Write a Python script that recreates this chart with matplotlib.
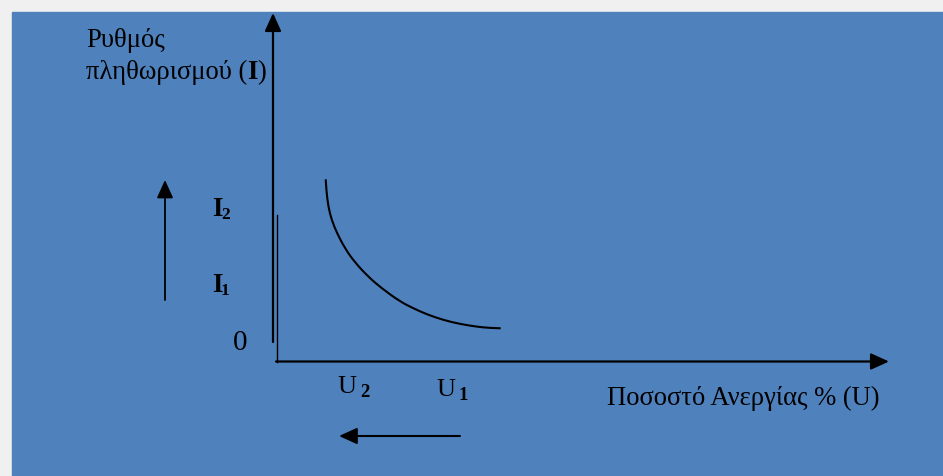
import matplotlib
matplotlib.use("Agg")
import matplotlib.pyplot as plt
from matplotlib.patches import Rectangle, PathPatch
from matplotlib.path import Path

# ---- data (conceptual units: origin at the axes corner) ----
unemployment = [5.07, 5.13, 5.33, 5.67, 6.17, 7.0, 8.0, 9.33, 10.67, 12.5,
                13.83, 15.17, 16.83, 18.5, 20.17, 21.5, 22.57]
inflation = [18.17, 17.1, 15.43, 14.1, 12.85, 11.25, 9.85, 8.42, 7.27, 5.95,
             5.27, 4.67, 4.1, 3.7, 3.43, 3.3, 3.27]

y_title_line1 = "Ρυθμός"
y_title_line2 = "πληθωρισμού ("
x_title = "Ποσοστό Ανεργίας % (U)"
origin_label = "0"
i_labels = [("I", "2"), ("I", "1")]
u_labels = [("U", "2"), ("U", "1")]

BLUE = "#4f81bd"
GRAY = "#f0f0f0"
FONT = "Liberation Serif"

W, H = 943, 476
fig = plt.figure(figsize=(W / 100, H / 100), dpi=100, facecolor=GRAY)

ax = fig.add_axes([0, 0, 1, 1])
ax.set_facecolor("none")
# data frame: 1 unit = 10 px, origin at pixel (275, 361)
OX, OY = 275, 361
ax.set_xlim((0 - OX) / 10, (W - OX) / 10)
ax.set_ylim((OY - H) / 10, (OY - 0) / 10)
ax.axis("off")
ax.add_patch(Rectangle((12 / W, 0), (W - 12) / W, (H - 12) / H,
                       transform=ax.transAxes, color=BLUE, zorder=-5,
                       clip_on=False))


def P(px, py):
    return ((px - OX) / 10, (OY - py) / 10)


def arrow(tail, tip, lw=1.6, hl=1.1, hw=0.5):
    ax.annotate("", xy=P(*tip), xytext=P(*tail),
                arrowprops=dict(arrowstyle=f"-|>,head_length={hl},head_width={hw}",
                                lw=lw, color="black", shrinkA=0, shrinkB=0,
                                mutation_scale=10))


# axes lines
arrow((273, 342), (273, 13), lw=1.6)
ax.plot(*zip(P(276.5, 215), P(276.5, 362)), color="black", lw=1.0)
arrow((276, 361.5), (889, 361.5), lw=1.6)

# direction arrows
arrow((165, 300), (165, 180), lw=1.3)
arrow((460, 436), (339, 436), lw=1.5)

# Phillips curve, drawn as a smooth quadratic path through the read points
pts = list(zip(unemployment, inflation))
verts = [pts[0]]
codes = [Path.MOVETO]
for i in range(1, len(pts) - 1):
    mid = ((pts[i][0] + pts[i + 1][0]) / 2, (pts[i][1] + pts[i + 1][1]) / 2)
    end = mid if i < len(pts) - 2 else pts[-1]
    verts += [pts[i], end]
    codes += [Path.CURVE3, Path.CURVE3]
ax.add_patch(PathPatch(Path(verts, codes), facecolor="none", edgecolor="black",
                       lw=1.5, capstyle="butt"))

# texts
FS = 19.2
ax.text(*P(86, 47), y_title_line1, fontsize=FS, family=FONT, va="baseline", ha="left")
t2 = ax.text(*P(86, 79), y_title_line2, fontsize=FS, family=FONT, va="baseline", ha="left")
t3 = ax.annotate("I", xy=(1, 0), xycoords=t2, fontsize=FS, family=FONT,
                 fontweight="bold", va="bottom", ha="left")
ax.annotate(")", xy=(1, 0), xycoords=t3, fontsize=FS, family=FONT,
            va="bottom", ha="left")

ax.text(*P(607, 405), x_title, fontsize=FS, family=FONT, va="baseline", ha="left")
ax.text(*P(233, 350), origin_label, fontsize=21, family=FONT, va="baseline", ha="left")

for (main, sub), (mx, my), (sx, sy) in zip(i_labels,
                                           [(212, 216), (212, 292)],
                                           [(221, 219), (221, 295)]):
    ax.text(*P(mx, my), main, fontsize=19.5, family=FONT, fontweight="bold",
            va="baseline", ha="left")
    ax.text(*P(sx, sy), sub, fontsize=12.5, family=FONT, fontweight="bold",
            va="baseline", ha="left")

for (main, sub), (mx, my), (sx, sy) in zip(u_labels,
                                           [(337, 393), (436, 396)],
                                           [(360, 397), (458, 400)]):
    ax.text(*P(mx, my), main, fontsize=19, family=FONT,
            va="baseline", ha="left")
    ax.text(*P(sx, sy), sub, fontsize=13.5, family=FONT, fontweight="bold",
            va="baseline", ha="left")

fig.savefig("out.png", dpi=100, facecolor=GRAY)
